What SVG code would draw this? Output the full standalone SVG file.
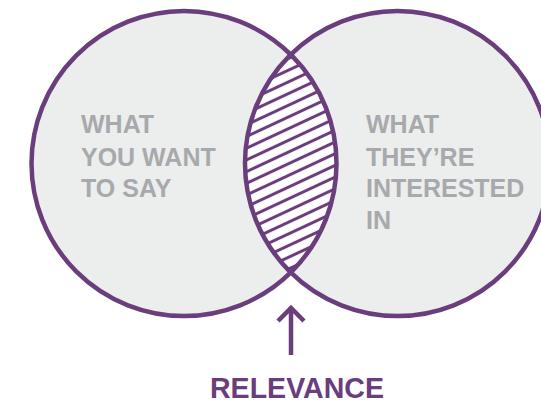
<svg xmlns="http://www.w3.org/2000/svg" width="541" height="407" viewBox="0 0 541 407">
  <style>
    .set { fill: #eceded; }
    .ring { fill: none; stroke: #6a3d7c; stroke-width: 4.5; }
    .txt { font-family: "Liberation Sans", Arial, sans-serif; font-weight: bold; font-size: 25px; fill: #a7a9ac; }
    .label { font-family: "Liberation Sans", Arial, sans-serif; font-weight: bold; font-size: 29px; fill: #6a3d7c; }
    .conn { fill: none; stroke: #6a3d7c; stroke-width: 4.5; }
  </style>
  <defs>
    <!-- diagonal hatching for the overlap -->
    <pattern id="hatch" patternUnits="userSpaceOnUse" width="20" height="10.6" patternTransform="rotate(-25)">
      <rect width="20" height="10.6" fill="#ffffff"/>
      <line x1="0" y1="5.3" x2="20" y2="5.3" stroke="#6a3d7c" stroke-width="3"/>
    </pattern>
  </defs>

  <!-- filled sets -->
  <g id="left-set">
    <circle class="set" cx="184" cy="163.5" r="152.5"/>
  </g>
  <g id="right-set">
    <circle class="set" cx="397.5" cy="163.5" r="152.5"/>
  </g>

  <!-- lens-shaped intersection -->
  <g id="overlap">
    <path d="M290.75 54.6 A152.5 152.5 0 0 1 290.75 272.4 A152.5 152.5 0 0 1 290.75 54.6 Z" fill="url(#hatch)"/>
  </g>

  <!-- outlines on top -->
  <circle class="ring" cx="184" cy="163.5" r="152.5"/>
  <circle class="ring" cx="397.5" cy="163.5" r="152.5"/>

  <g id="left-text">
    <text class="txt" x="81" y="133">WHAT</text>
    <text class="txt" x="81" y="166">YOU WANT</text>
    <text class="txt" x="81" y="197">TO SAY</text>
  </g>
  <g id="right-text">
    <text class="txt" x="366" y="133">WHAT</text>
    <text class="txt" x="366" y="166">THEY’RE</text>
    <text class="txt" x="366" y="197">INTERESTED</text>
    <text class="txt" x="366" y="229">IN</text>
  </g>

  <g id="connectors">
    <line class="conn" x1="291" y1="307" x2="291" y2="355"/>
    <polyline class="conn" points="278,321 291,308 304,321"/>
  </g>

  <g id="relevance">
    <text class="label" x="297" y="398" text-anchor="middle" textLength="174" lengthAdjust="spacingAndGlyphs">RELEVANCE</text>
  </g>
</svg>
